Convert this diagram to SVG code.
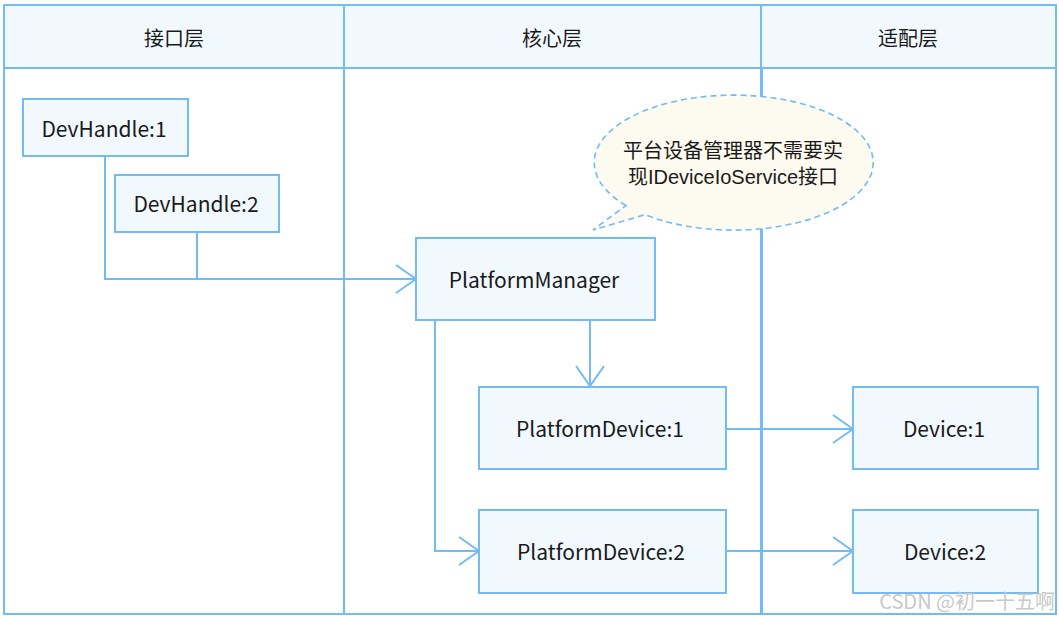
<svg xmlns="http://www.w3.org/2000/svg" width="1059" height="619" viewBox="0 0 1059 619">
<style>
.box{fill:#f1f8fe;stroke:#72bbf5;stroke-width:2}
.hdr{fill:#f2f9fe;stroke:#72bbf5;stroke-width:2}
.ln{fill:none;stroke:#72bbf5;stroke-width:2}
.t{font-family:"Noto Sans CJK SC","Noto Sans",sans-serif;font-size:21px;fill:#1a1a1a;text-anchor:middle;dominant-baseline:central}
.h{font-size:20px}
.c{font-family:"Liberation Sans","Noto Sans CJK SC",sans-serif;font-size:20px}
.wm{font-family:"Noto Sans CJK SC","Noto Sans",sans-serif;font-size:20px;fill:#c9c9c9;text-anchor:end}
</style>
<defs>
<marker id="arr" viewBox="0 0 22 30" refX="21" refY="15" markerWidth="22" markerHeight="30" markerUnits="userSpaceOnUse" orient="auto">
<path d="M1,1 L21,15 L1,29" fill="none" stroke="#72bbf5" stroke-width="2"/>
</marker>
</defs>
<rect x="0" y="0" width="1059" height="619" fill="#ffffff"/>
<g id="lanes">
<rect x="4" y="5" width="1052" height="609" fill="#ffffff" stroke="#72bbf5" stroke-width="2"/>
<rect class="hdr" x="4" y="5" width="340" height="63"/>
<rect class="hdr" x="344" y="5" width="417" height="63"/>
<rect class="hdr" x="761" y="5" width="295" height="63"/>
<line class="ln" x1="344" y1="68" x2="344" y2="614"/>
<line x1="761.5" y1="68" x2="761.5" y2="614" stroke="#72bbf5" stroke-width="3"/>
<text class="t h" x="174" y="37">接口层</text>
<text class="t h" x="552" y="37">核心层</text>
<text class="t h" x="908" y="37">适配层</text>
</g>
<g id="connectors">
<polyline class="ln" points="105,156 105,279 416,279" marker-end="url(#arr)"/>
<line class="ln" x1="197" y1="232" x2="197" y2="279"/>
<line class="ln" x1="590" y1="320" x2="590" y2="386" marker-end="url(#arr)"/>
<polyline class="ln" points="435,320 435,551 479,551" marker-end="url(#arr)"/>
<line class="ln" x1="726" y1="429" x2="853" y2="429" marker-end="url(#arr)"/>
<line class="ln" x1="726" y1="551" x2="853" y2="551" marker-end="url(#arr)"/>
</g>
<g id="devhandle1"><rect class="box" x="23" y="99" width="165" height="57"/><text class="t" x="104" y="128">DevHandle:1</text></g>
<g id="devhandle2"><rect class="box" x="115" y="175" width="164" height="57"/><text class="t" x="196" y="203">DevHandle:2</text></g>
<g id="platformmanager"><rect class="box" x="416" y="238" width="239" height="82"/><text class="t" x="534" y="279">PlatformManager</text></g>
<g id="platformdevice1"><rect class="box" x="479" y="387" width="247" height="82"/><text class="t" x="600" y="428">PlatformDevice:1</text></g>
<g id="platformdevice2"><rect class="box" x="479" y="510" width="247" height="83"/><text class="t" x="601" y="551">PlatformDevice:2</text></g>
<g id="device1"><rect class="box" x="853" y="387" width="185" height="82"/><text class="t" x="944" y="428">Device:1</text></g>
<g id="device2"><rect class="box" x="853" y="510" width="185" height="83"/><text class="t" x="945" y="551">Device:2</text></g>
<g id="callout">
<path d="M626,205.5 A139.5,67.5 0 1 1 645,214.7 L593,230 Z" fill="#fdfaf0" stroke="#72bbf5" stroke-width="1.6" stroke-dasharray="6,4"/>
<text class="t c" x="733" y="151">平台设备管理器不需要实</text>
<text class="t c" x="733" y="177">现IDeviceIoService接口</text>
</g>
<text class="wm" x="1055" y="609">CSDN @初一十五啊</text>
</svg>
